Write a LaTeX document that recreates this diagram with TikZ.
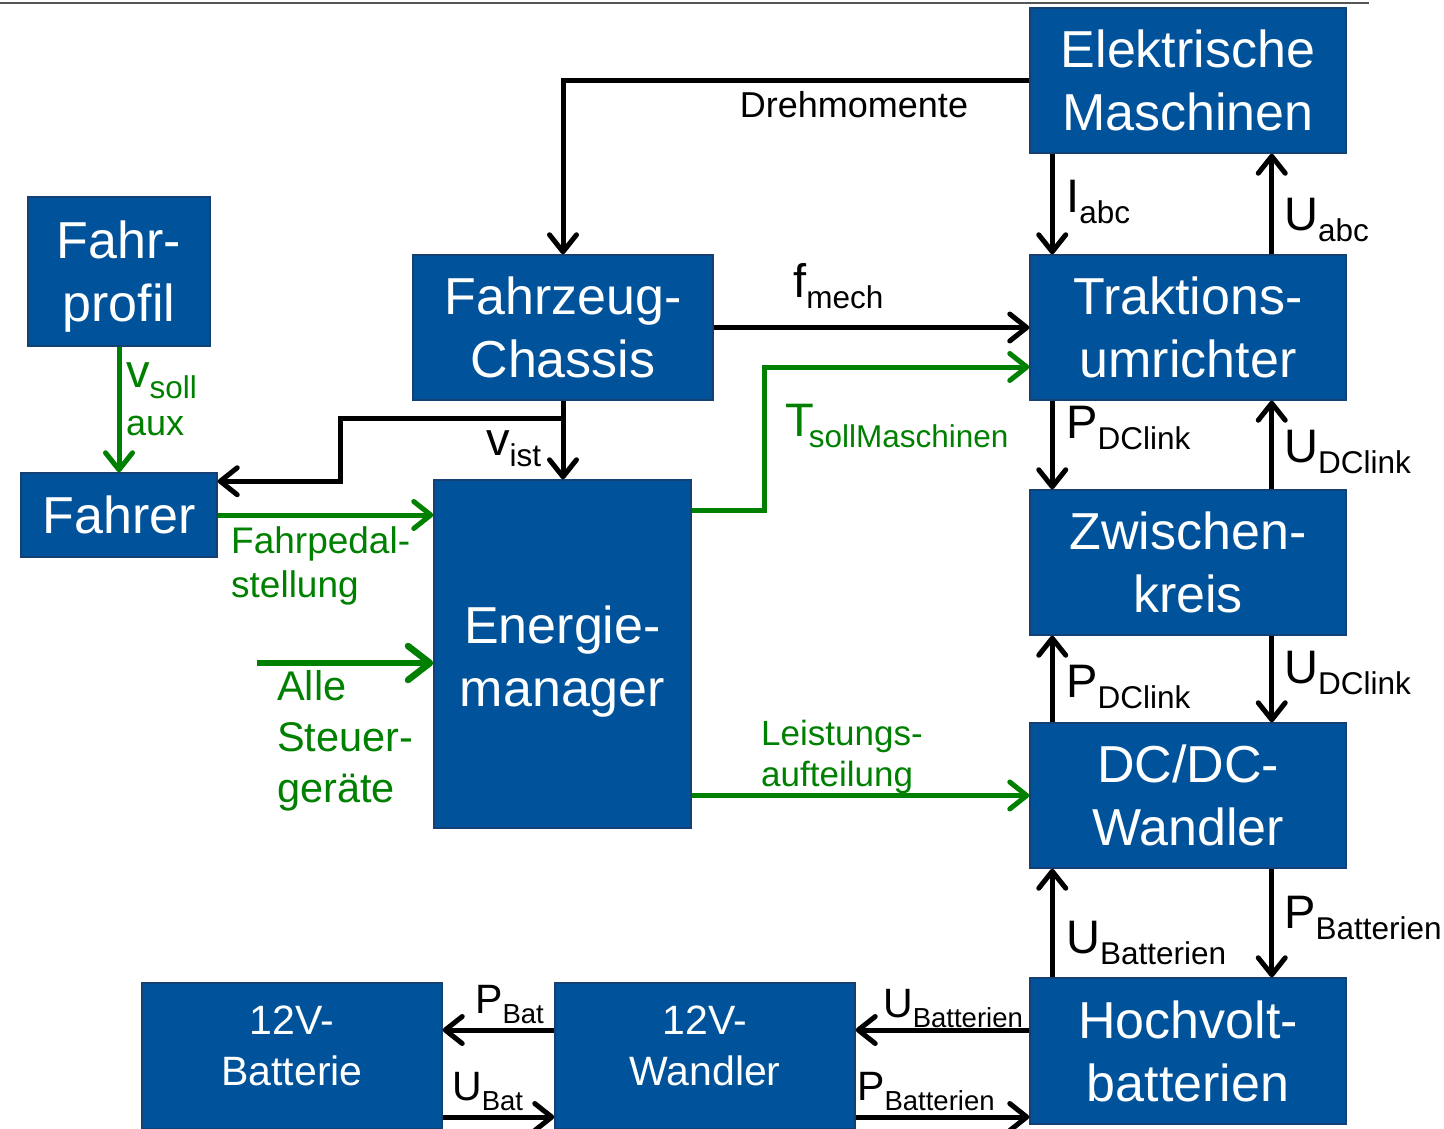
\documentclass[tikz,border=0pt]{standalone}
\usepackage{fontspec}
\setmainfont{Liberation Sans}
\usetikzlibrary{arrows.meta,calc}
\definecolor{boxblue}{RGB}{0,83,155}
\definecolor{boxedge}{RGB}{20,64,116}
\definecolor{sigreen}{RGB}{0,128,0}
\definecolor{rulegray}{RGB}{85,85,85}
% signal name with subscript, large and small variants
\newcommand\sigL[2]{{\fontsize{47}{47}\selectfont #1}\raisebox{-11pt}{\fontsize{31.5}{31.5}\selectfont #2}}
\newcommand\sigS[2]{{\fontsize{41}{41}\selectfont #1}\raisebox{-10pt}{\fontsize{27.5}{27.5}\selectfont #2}}
\begin{document}
\begin{tikzpicture}[x=1pt,y=-1pt,
  block/.style={draw=boxedge, line width=1.5pt, fill=boxblue, text=white,
    align=center, inner sep=0pt, font=\fontsize{52}{63}\selectfont},
  wide/.style={block, minimum width=316pt, minimum height=145pt},
  small/.style={block, minimum width=300pt, minimum height=146pt,
    font=\fontsize{41}{51}\selectfont},
  arr/.style={line width=5pt, -{Straight Barb[length=17pt,width=27pt,round]}},
  blk/.style={arr, draw=black},
  grn/.style={arr, draw=sigreen},
  lab/.style={inner sep=0pt, anchor=base west},
  glab/.style={inner sep=0pt, text=sigreen, align=left, anchor=north west}
]
\useasboundingbox (0,0) rectangle (1444,1128);
\fill[white] (0,0) rectangle (1444,1128);
\draw[rulegray, line width=2.5pt] (0,3) -- (1369,3);

% blocks
\node[wide] (em) at (1188,80.5) {Elektrische\\Maschinen};
\node[wide] (tu) at (1188,327.5) {Traktions-\\umrichter};
\node[wide] (zk) at (1188,562.5) {Zwischen-\\kreis};
\node[wide] (dc) at (1188,795.5) {DC/DC-\\Wandler};
\node[wide, minimum height=146pt] (hv) at (1188,1051) {Hochvolt-\\batterien};
\node[block, minimum width=182pt, minimum height=149pt] (fp) at (119,271.5)
  {\rule{0pt}{48pt}Fahr-\\profil};
\node[block, minimum width=300pt, minimum height=145pt] (ch) at (563,327.5) {Fahrzeug-\\Chassis};
\node[block, minimum width=196pt, minimum height=84pt] (fa) at (119,515) {Fahrer};
\node[block, minimum width=257pt, minimum height=348pt] (emg) at (562.5,654)
  {\rule{0pt}{52pt}Energie-\\manager};
\node[small] (b12) at (292,1056) {12V-\\Batterie\rule[-20pt]{0pt}{20pt}};
\node[small] (w12) at (705,1056) {12V-\\Wandler\rule[-20pt]{0pt}{20pt}};

% mechanical coupling
\draw[blk] (em.west) -| (ch.north);
\draw[blk] (ch.east) -- (tu.west);

% vehicle speed feedback
\coordinate (vb) at ($(ch.south)+(0,18)$);
\draw[blk] (ch.south) -- (ch.south |- emg.north);
\draw[blk] (vb) -- ++(-223,0) |- ([yshift=-9pt]fa.north east);

% electrical chain, left column down / right column up
\draw[blk] ([xshift=23pt]em.south west) -- ([xshift=23pt]tu.north west);
\draw[blk] ([xshift=-75pt]tu.north east) -- ([xshift=-75pt]em.south east);
\draw[blk] ([xshift=23pt]tu.south west) -- ([xshift=23pt]zk.north west);
\draw[blk] ([xshift=-75pt]zk.north east) -- ([xshift=-75pt]tu.south east);
\draw[blk] ([xshift=23pt]dc.north west) -- ([xshift=23pt]zk.south west);
\draw[blk] ([xshift=-75pt]zk.south east) -- ([xshift=-75pt]dc.north east);
\draw[blk] ([xshift=23pt]hv.north west) -- ([xshift=23pt]dc.south west);
\draw[blk] ([xshift=-75pt]dc.south east) -- ([xshift=-75pt]hv.north east);

% 12 V branch
\draw[blk] ([yshift=21pt]hv.west) -- ([yshift=21pt]hv.west -| w12.east);
\draw[blk] ([yshift=-66pt]hv.west -| w12.east) -- ([yshift=-66pt]hv.west);
\draw[blk] ([yshift=26pt]w12.west) -- ([yshift=26pt]w12.west -| b12.east);
\draw[blk] ([yshift=-61pt]b12.east) -- ([yshift=-61pt]b12.east -| w12.west);

% control signals
\draw[grn] (fp.south) -- (fa.north);
\draw[grn] (fa.east) -- (fa.east -| emg.west);
\coordinate (ctl) at (257,663);
\draw[grn, line width=6.5pt, -{Straight Barb[length=22pt,width=34pt,round]}] (ctl) -- (ctl -| emg.west);
\draw[grn] ([yshift=-31pt]emg.north east) -- ++(73,0) |- ([yshift=-39.5pt]tu.west);
\draw[grn] (dc.west -| emg.east) -- (dc.west);

% signal labels
\node[lab, anchor=base, font=\fontsize{36}{36}\selectfont] (ltq) at (854,117) {Drehmomente};
\node[lab] (lia) at (1066,212) {\sigL{I}{abc}};
\node[lab] (lua) at (1284,230) {\sigL{U}{abc}};
\node[lab] (lfm) at (793,297) {\sigL{f}{mech}};
\node[lab] (lvi) at (486,455) {\sigL{v}{ist}};
\node[lab] (lp1) at (1066,438) {\sigL{P}{DClink}};
\node[lab] (lu1) at (1284,462) {\sigL{U}{DClink}};
\node[lab] (lp2) at (1066,697) {\sigL{P}{DClink}};
\node[lab] (lu2) at (1284,683) {\sigL{U}{DClink}};
\node[lab] (lub) at (1066,953) {\sigL{U}{Batterien}};
\node[lab] (lpb) at (1284,928) {\sigL{P}{Batterien}};
\node[lab] (lub2) at (883,1017) {\sigS{U}{Batterien}};
\node[lab] (lpb2) at (857,1100) {\sigS{P}{Batterien}};
\node[lab] (lpbat) at (475,1013) {\sigS{P}{Bat}};
\node[lab] (lubat) at (452,1100) {\sigS{U}{Bat}};

\node[lab, text=sigreen] (lts) at (785,436) {\sigL{T}{\kern-5pt sollMaschinen}};
\node[lab, text=sigreen] (lvs) at (126,387) {\sigL{v}{soll}};
\node[lab, text=sigreen, font=\fontsize{36}{36}\selectfont] (lax) at (126,435) {aux};
\node[glab, font=\fontsize{37}{44}\selectfont] (lfp) at (231,526) {Fahrpedal-\\stellung};
\node[glab, font=\fontsize{41.5}{51}\selectfont] (lst) at (277,670) {Alle\\Steuer-\\geräte};
\node[glab, font=\fontsize{35}{41}\selectfont] (lla) at (761,720) {Leistungs-\\aufteilung};
\end{tikzpicture}
\end{document}
